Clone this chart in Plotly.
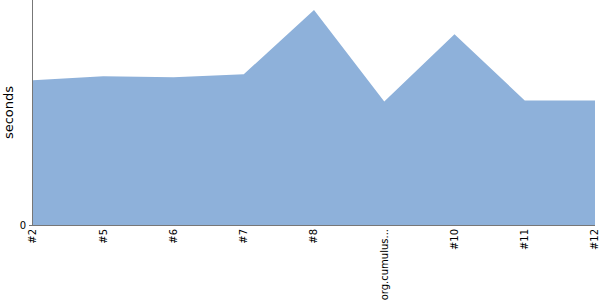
import plotly.graph_objects as go

categories = ["#2", "#5", "#6", "#7", "#8", "org.cumulus...", "#10", "#11", "#12"]
seconds = [144, 148, 147, 150, 214, 123, 190, 124, 124]
y_max = 224

fig = go.Figure()
fig.add_trace(go.Scatter(
    x=categories, y=seconds, mode="lines", fill="tozeroy",
    line=dict(width=0, color="#8eb1da"), fillcolor="#8eb1da",
    hoverinfo="skip", showlegend=False,
))
fig.update_layout(
    width=600, height=300,
    margin=dict(l=33, r=5, t=0, b=75),
    plot_bgcolor="white", paper_bgcolor="white",
    font=dict(family="DejaVu Sans", size=10, color="#000"),
)
fig.update_xaxes(
    type="category", range=[0, len(categories) - 1],
    showgrid=False, zeroline=False, showline=True, linecolor="#777", linewidth=1,
    tickangle=-90, ticks="", tickfont=dict(size=10), ticklabelstandoff=-1,
)
fig.update_yaxes(
    range=[0, y_max], tickvals=[0], ticktext=["0"],
    showgrid=False, zeroline=False, showline=True, linecolor="#777", linewidth=1,
    ticks="outside", ticklen=3, tickcolor="#777", ticklabelstandoff=1,
    title=dict(text="seconds", font=dict(size=13), standoff=3),
)
fig.write_html("out.html")
